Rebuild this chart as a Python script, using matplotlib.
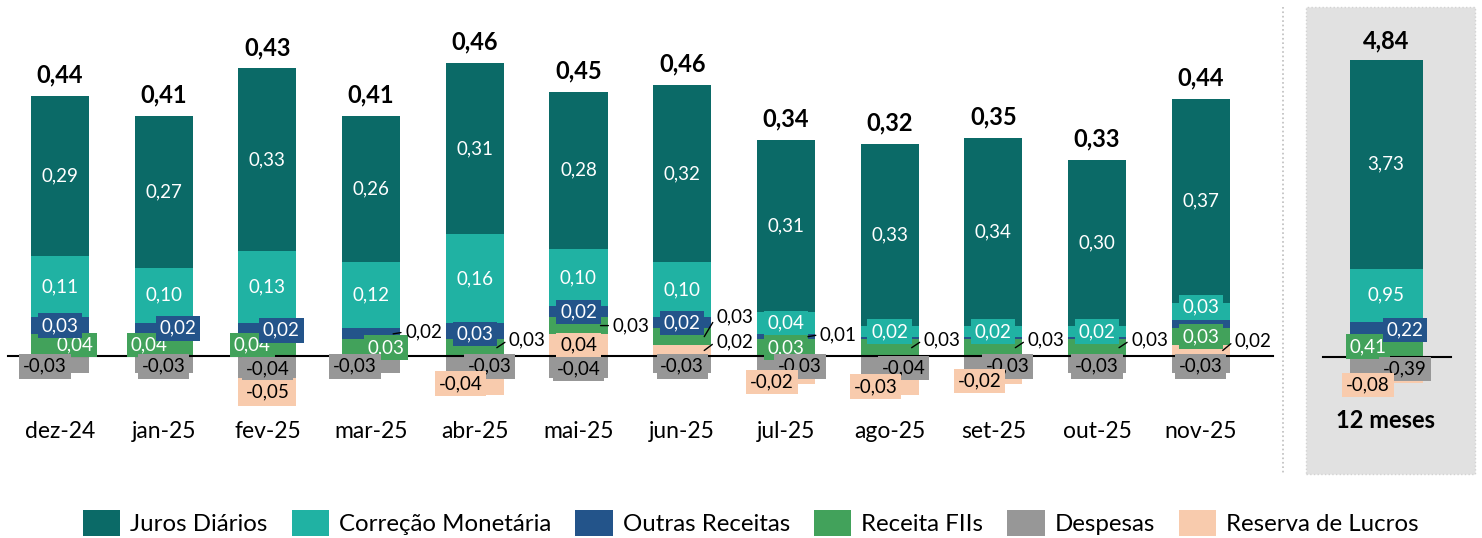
import matplotlib.pyplot as plt
from matplotlib.patches import Patch, Rectangle
from matplotlib.lines import Line2D
import numpy as np

plt.rcParams['font.family'] = ['Lato', 'DejaVu Sans']

# dados (R$ por cota)
meses = ['dez-24', 'jan-25', 'fev-25', 'mar-25', 'abr-25', 'mai-25',
         'jun-25', 'jul-25', 'ago-25', 'set-25', 'out-25', 'nov-25']
juros = [0.29, 0.274, 0.33, 0.264, 0.31, 0.284, 0.32, 0.31, 0.33, 0.34, 0.30, 0.37]
correcao = [0.11, 0.10, 0.13, 0.12, 0.16, 0.104, 0.10, 0.04, 0.02, 0.02, 0.02, 0.03]
outras = [0.03, 0.02, 0.02, 0.02, 0.03, 0.02, 0.02, 0.01, 0.004, 0.004, 0.004, 0.015]
fiis = [0.04, 0.04, 0.04, 0.03, 0.03, 0.03, 0.03, 0.03, 0.03, 0.03, 0.03, 0.03]
despesas = [-0.03, -0.03, -0.04, -0.03, -0.03, -0.04, -0.03, -0.03, -0.04, -0.03, -0.03, -0.03]
reserva = [0, 0, -0.05, 0, -0.04, 0.04, 0.02, -0.02, -0.03, -0.02, 0, 0.02]
totais = [0.44, 0.41, 0.43, 0.41, 0.46, 0.45, 0.46, 0.34, 0.32, 0.35, 0.33, 0.44]

# acumulado 12 meses
juros_12m = [3.73]
correcao_12m = [0.95]
outras_12m = [0.22]
fiis_12m = [0.41]
despesas_12m = [-0.39]
reserva_12m = [-0.08]
total_12m = [4.84]

cores = {
    'Juros Diários': '#0b6a67',
    'Correção Monetária': '#20b2a3',
    'Outras Receitas': '#23548a',
    'Receita FIIs': '#42a25b',
    'Despesas': '#979797',
    'Reserva de Lucros': '#f8cbad',
}
cor_texto = {'Despesas': 'black', 'Reserva de Lucros': 'black'}

# ordem de empilhamento
ordem_pos = ['Reserva de Lucros', 'Receita FIIs', 'Outras Receitas', 'Correção Monetária', 'Juros Diários']
ordem_neg = ['Despesas', 'Reserva de Lucros']

# deslocamento dos rótulos (pixels) - sobreposição estilo Excel
desloc = {
    (0, 'Receita FIIs'): (15, 0), (0, 'Despesas'): (-15, -2),
    (1, 'Outras Receitas'): (14, 0), (1, 'Receita FIIs'): (-15, 0), (1, 'Despesas'): (0, -2),
    (2, 'Outras Receitas'): (14, -2), (2, 'Receita FIIs'): (-15, 0), (2, 'Despesas'): (0, -2),
    (3, 'Receita FIIs'): (15, 0), (3, 'Despesas'): (-16, -2),
    (4, 'Outras Receitas'): (0, -3), (4, 'Despesas'): (15, -2), (4, 'Reserva de Lucros'): (-14, 0),
    (5, 'Despesas'): (0, -2),
    (6, 'Despesas'): (0, -2),
    (7, 'Despesas'): (14, -2), (7, 'Reserva de Lucros'): (-14, -4),
    (8, 'Despesas'): (14, -1), (8, 'Reserva de Lucros'): (-14, 0),
    (9, 'Despesas'): (14, -2), (9, 'Reserva de Lucros'): (-14, -3),
    (10, 'Despesas'): (0, -2),
    (11, 'Correção Monetária'): (0, 5), (11, 'Despesas'): (0, -2),
}
# rótulos com linha de chamada: deslocamento vertical (pixels)
chamadas = {
    (3, 'Outras Receitas'): 2, (4, 'Receita FIIs'): 8, (5, 'Receita FIIs'): 0,
    (6, 'Receita FIIs'): 20, (6, 'Reserva de Lucros'): 9, (7, 'Outras Receitas'): 2,
    (8, 'Receita FIIs'): 8, (9, 'Receita FIIs'): 8, (10, 'Receita FIIs'): 8,
    (11, 'Reserva de Lucros'): 10,
}
ocultos = {(11, 'Outras Receitas')}

desloc_12m = {
    (0, 'Outras Receitas'): (19, -2), (0, 'Receita FIIs'): (-18, -1),
    (0, 'Despesas'): (19, -1), (0, 'Reserva de Lucros'): (-18, -4),
}


def fmt(v):
    return f'{v:.2f}'.replace('.', ',')


def empilhar(ax, x, series, largura, px_x, desloc, chamadas, ocultos):
    x = np.asarray(x, dtype=float)
    base_pos = np.zeros(len(x))
    base_neg = np.zeros(len(x))
    blocos = []
    for nome in ordem_pos:
        v = np.clip(np.asarray(series[nome], dtype=float), 0, None)
        ax.bar(x, v, largura, bottom=base_pos, color=cores[nome], edgecolor='none', zorder=2)
        blocos.append((nome, v, base_pos.copy()))
        base_pos = base_pos + v
    for nome in ordem_neg:
        v = np.clip(np.asarray(series[nome], dtype=float), None, 0)
        ax.bar(x, v, largura, bottom=base_neg, color=cores[nome], edgecolor='none', zorder=2)
        blocos.append((nome, v, base_neg.copy()))
        base_neg = base_neg + v

    for nome, v, base in blocos:
        for i in range(len(x)):
            if round(abs(v[i]), 2) == 0 or (i, nome) in ocultos:
                continue
            yc = base[i] + v[i] / 2
            if (i, nome) in chamadas:
                xy = (x[i] + largura / 2 - 7 / px_x, yc)
                ax.annotate(fmt(v[i]), xy=xy, xytext=(12, chamadas[(i, nome)]),
                            textcoords='offset pixels', ha='left', va='center',
                            fontsize=13.5, color='black', zorder=5,
                            arrowprops=dict(arrowstyle='-', lw=1, color='black',
                                            shrinkA=1, shrinkB=0, relpos=(0, 0.5)))
            else:
                dx, dy = desloc.get((i, nome), (0, 0))
                ax.annotate(fmt(v[i]), xy=(x[i], yc), xytext=(dx, dy),
                            textcoords='offset pixels', ha='center', va='center',
                            fontsize=13.5, color=cor_texto.get(nome, 'white'), zorder=5,
                            bbox=dict(boxstyle='square,pad=0.2', fc=cores[nome], ec='none'))
    return base_pos


fig = plt.figure(figsize=(14.82, 5.38), dpi=100)
W, H = 1482, 538

# --- meses ---
PX_X, PX_Y, Y0 = 103.7, 553, 356
ax = fig.add_axes([0, 0, 1283 / W, 1])
ax.set_xlim(-60 / PX_X, -60 / PX_X + 1283 / PX_X)
ax.set_ylim(-(H - Y0) / PX_Y, Y0 / PX_Y)
ax.axis('off')

x = np.arange(len(meses))
series = {'Juros Diários': juros, 'Correção Monetária': correcao, 'Outras Receitas': outras,
          'Receita FIIs': fiis, 'Despesas': despesas, 'Reserva de Lucros': reserva}
topo = empilhar(ax, x, series, 0.56, PX_X, desloc, chamadas, ocultos)
ax.plot([-52 / PX_X, 1213 / PX_X], [0, 0], color='black', lw=1.5, zorder=3)

for i in range(len(meses)):
    ax.annotate(fmt(totais[i]), xy=(x[i], topo[i]), xytext=(0, 21), textcoords='offset pixels',
                ha='center', va='center', fontsize=17, fontweight='bold')
    ax.text(x[i], (Y0 - 432) / PX_Y, meses[i], ha='center', va='center', fontsize=16.5)

# --- 12 meses ---
PX_X2, PX_Y2, Y02 = 100, 56, 357
ax2 = fig.add_axes([1290 / W, 0, 192 / W, 1])
ax2.set_xlim(-0.96, 0.96)
ax2.set_ylim(-(H - Y02) / PX_Y2, Y02 / PX_Y2)
ax2.axis('off')
ax2.add_patch(Rectangle(((1306 - 1386) / PX_X2, -(474 - Y02) / PX_Y2), 169 / PX_X2, 467 / PX_Y2,
                        fc='#e1e1e1', ec='#d2d2d2', lw=1, ls=':', zorder=0))

series_12m = {'Juros Diários': juros_12m, 'Correção Monetária': correcao_12m,
              'Outras Receitas': outras_12m, 'Receita FIIs': fiis_12m,
              'Despesas': despesas_12m, 'Reserva de Lucros': reserva_12m}
topo2 = empilhar(ax2, [0], series_12m, 0.73, PX_X2, desloc_12m, {}, set())
ax2.plot([-0.63, 0.65], [0, 0], color='black', lw=1.5, zorder=3)
ax2.annotate(fmt(total_12m[0]), xy=(0, topo2[0]), xytext=(0, 19), textcoords='offset pixels',
             ha='center', va='center', fontsize=17, fontweight='bold')
ax2.text(0, (Y02 - 420) / PX_Y2, '12 meses', ha='center', va='center', fontsize=17, fontweight='bold')

# separador pontilhado
fig.add_artist(Line2D([1283 / W, 1283 / W], [1 - 7 / H, 1 - 475 / H], color='#bdbdbd',
                      lw=1.2, ls=':'))

# legenda
nomes_leg = ['Juros Diários', 'Correção Monetária', 'Outras Receitas', 'Receita FIIs',
             'Despesas', 'Reserva de Lucros']
handles = [Patch(facecolor=cores[n], edgecolor='none', label=n) for n in nomes_leg]
fig.legend(handles=handles, loc='center', bbox_to_anchor=(751 / W, 1 - 523 / H), ncol=6,
           frameon=False, fontsize=17.3, handlelength=1.55, handleheight=1.25,
           handletextpad=0.42, columnspacing=1.0, borderaxespad=0)

fig.savefig('out.png', dpi=100)
